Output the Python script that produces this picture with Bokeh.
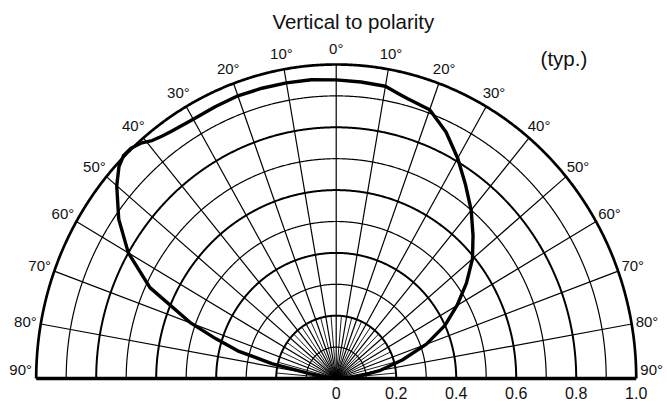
import numpy as np
from bokeh.plotting import figure
from bokeh.models import Range1d
from bokeh.core.properties import value
from bokeh.embed import file_html
from bokeh.resources import INLINE

# ---------------- data ----------------
# signed angle from vertical axis (deg, negative = left side) and relative intensity
angle_deg = [-90, -85, -82, -80, -77.5, -75, -72.5, -70, -65, -60, -55, -50, -47, -45,
             -43, -41, -39, -37, -35, -30, -25, -20, -15, -10, -5, 0,
             5, 10, 13, 15, 20, 25, 30, 35, 40, 45, 50, 55, 60, 65, 70, 75, 80, 85, 90]
rel_intensity = [0.0, 0.01, 0.04, 0.09, 0.22, 0.34, 0.42, 0.515, 0.685, 0.80, 0.885, 0.955, 0.99, 1.003,
                 1.003, 0.993, 0.975, 0.966, 0.96, 0.953, 0.955, 0.958, 0.957, 0.956, 0.955, 0.951,
                 0.948, 0.945, 0.93, 0.922, 0.911, 0.866, 0.81, 0.752, 0.70, 0.645, 0.593, 0.53,
                 0.465, 0.40, 0.32, 0.228, 0.15, 0.075, 0.0]

ring_values = [0.1, 0.2, 0.3, 0.4, 0.5, 0.6, 0.7, 0.8, 0.9, 1.0]
spoke_angles = [0, 10, 20, 30, 40, 50, 60, 70, 80]
fine_spoke_angles = [5, 15, 25, 35, 45, 55, 65, 75, 85]
fine_spoke_length = 0.2
degree_values = [0, 10, 20, 30, 40, 50, 60, 70, 80, 90]
degree_labels = ["0°", "10°", "20°", "30°", "40°", "50°", "60°", "70°", "80°", "90°"]
radius_ticks = [0, 0.2, 0.4, 0.6, 0.8, 1.0]
radius_labels = ["0", "0.2", "0.4", "0.6", "0.8", "1.0"]
title_text = "Vertical to polarity"
note_text = "(typ.)"

FONT = value("Liberation Sans")

p = figure(width=667, height=406,
           x_range=Range1d(-1.119, 1.1043), y_range=Range1d(-0.0892, 1.2038),
           output_backend="svg", toolbar_location=None,
           x_axis_type=None, y_axis_type=None, min_border=0)
p.outline_line_color = None
p.background_fill_color = "white"
p.border_fill_color = "white"

# ---------------- rings ----------------
t = np.linspace(-np.pi / 2, np.pi / 2, 721)
for r in ring_values:
    k = int(round(r * 10))
    if k == 10:
        w = 2.7
    elif k % 2 == 0:
        w = 2.0
    else:
        w = 1.2
    p.line(r * np.sin(t), r * np.cos(t), line_color="black", line_width=w)

# ---------------- spokes ----------------
xs, ys = [], []
for a in spoke_angles:
    for s in ([1] if a == 0 else [-1, 1]):
        ar = np.radians(a) * s
        xs.append([0, np.sin(ar)])
        ys.append([0, np.cos(ar)])
p.multi_line(xs, ys, line_color="black", line_width=1.2)

xs, ys = [], []
for a in fine_spoke_angles:
    for s in [-1, 1]:
        ar = np.radians(a) * s
        xs.append([0, fine_spoke_length * np.sin(ar)])
        ys.append([0, fine_spoke_length * np.cos(ar)])
p.multi_line(xs, ys, line_color="black", line_width=0.9)

# baseline (90° line)
p.line([-1.0, 1.0], [0, 0], line_color="black", line_width=3.3)

# ---------------- pattern curve ----------------
th = np.radians(np.array(angle_deg, dtype=float))
rr = np.array(rel_intensity, dtype=float)
p.line(rr * np.sin(th), rr * np.cos(th), line_color="black", line_width=3.4,
       line_join="round", line_cap="round")

# ---------------- labels ----------------
lab_r = 1.052
lx, ly, lt = [], [], []
for a, txt in zip(degree_values, degree_labels):
    aa = min(a, 88.5)
    sides = [1] if a == 0 else [-1, 1]
    for s in sides:
        lx.append(s * lab_r * np.sin(np.radians(aa)))
        ly.append(lab_r * np.cos(np.radians(aa)))
        lt.append(txt)
p.text(x=lx, y=ly, text=lt, text_align="center", text_baseline="middle",
       text_font=FONT, text_font_size=value("15px"), text_color="#111111")

p.text(x=radius_ticks, y=[-0.045] * len(radius_ticks), text=radius_labels,
       text_align="center", text_baseline="middle",
       text_font=FONT, text_font_size=value("16px"), text_color="#111111")

p.text(x=[0.057], y=[1.137], text=[title_text], text_align="center", text_baseline="middle",
       text_font=FONT, text_font_size=value("20.5px"), text_color="#111111")
p.text(x=[0.759], y=[1.019], text=[note_text], text_align="center", text_baseline="middle",
       text_font=FONT, text_font_size=value("20.5px"), text_color="#111111")

open("out.html", "w").write(file_html(p, INLINE))
